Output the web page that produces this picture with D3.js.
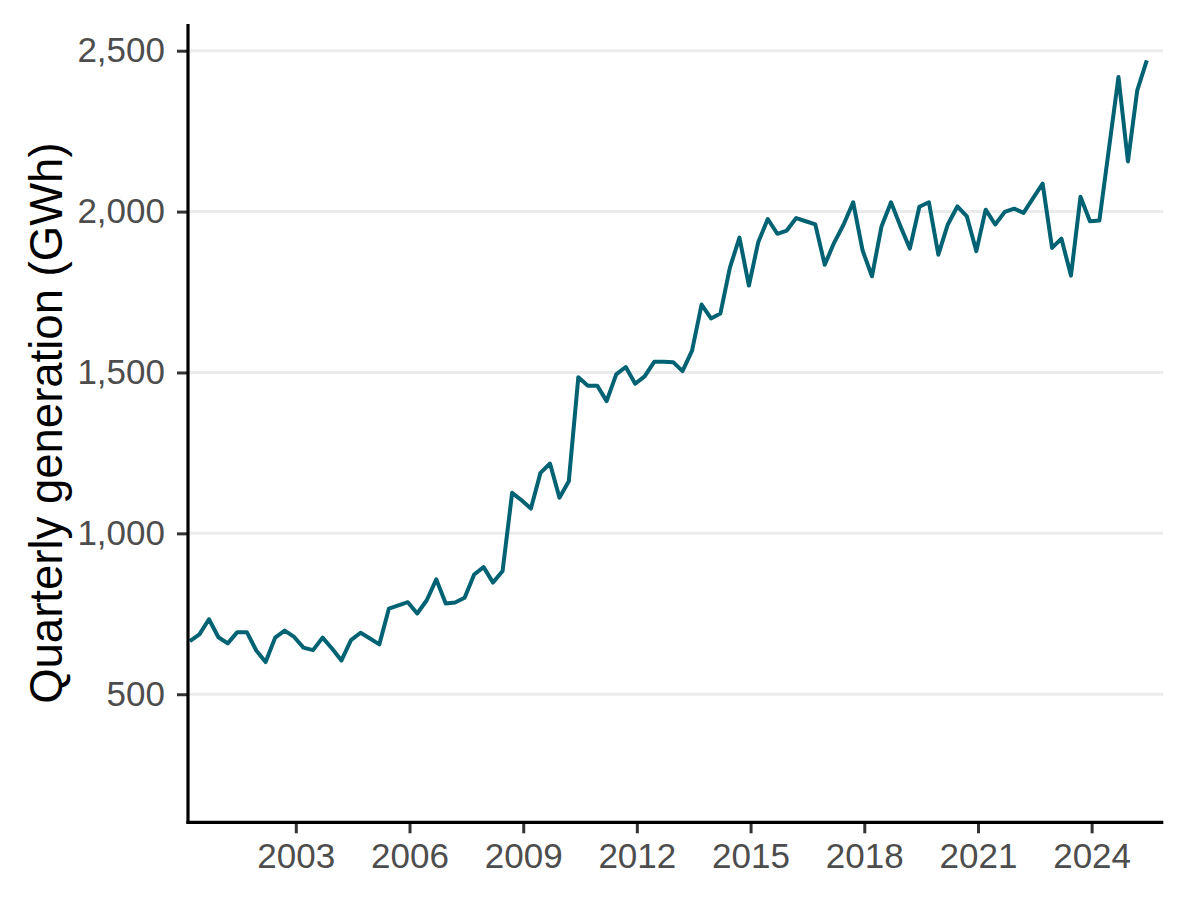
<!DOCTYPE html>
<html>
<head>
<meta charset="utf-8">
<script src="https://cdn.jsdelivr.net/npm/d3@7"></script>
<style>
  html, body { margin: 0; padding: 0; background: #ffffff; }
  svg { display: block; }
  text { font-family: "Liberation Sans", Arial, sans-serif; }
</style>
</head>
<body>
<svg id="chart" width="1200" height="900"></svg>
<script>
// ---- data ----
const startYear = 2000;
// Quarterly generation (GWh), 2000 Q1 .. 2025 Q2
const generation = [
  665, 686, 733, 677, 658, 693, 693, 636, 600, 676,
  698, 678, 645, 637, 676, 642, 605, 668, 691, 673,
  655, 766, 776, 786, 751, 792, 857, 782, 785, 800,
  872, 895, 847, 883, 1126, 1103, 1077, 1188, 1217, 1111,
  1162, 1485, 1459, 1459, 1411, 1494, 1517, 1465, 1488, 1533,
  1533, 1532, 1504, 1568, 1711, 1668, 1683, 1826, 1919, 1770,
  1905, 1977, 1931, 1941, 1980, 1970, 1960, 1835, 1903, 1960,
  2029, 1879, 1799, 1954, 2029, 1954, 1885, 2015, 2029, 1866,
  1960, 2016, 1985, 1877, 2006, 1960, 1999, 2009, 1996, 2042,
  2087, 1887, 1916, 1801, 2046, 1970, 1972, 2195, 2418, 2156,
  2377, 2470
];
const yTicks = [500, 1000, 1500, 2000, 2500];
const xTickYears = [2003, 2006, 2009, 2012, 2015, 2018, 2021, 2024];
const yTitle = "Quarterly generation (GWh)";

const series = generation.map((v, i) => {
  const year = startYear + Math.floor(i / 4);
  const q = i % 4;
  return { date: new Date(year, 3 * q + 2, 16), value: v };
});

// ---- layout ----
const svg = d3.select("#chart");
const plotLeft = 188, plotRight = 1163.3, plotTop = 24, plotBottom = 822.3;

const x = d3.scaleTime()
  .domain([new Date(2000, 1, 27), new Date(2025, 10, 22)])
  .range([plotLeft, plotRight]);
const y = d3.scaleLinear()
  .domain([102, 2583])
  .range([plotBottom, plotTop]);

// gridlines
svg.append("g")
  .selectAll("line")
  .data(yTicks)
  .join("line")
  .attr("x1", plotLeft).attr("x2", plotRight)
  .attr("y1", d => y(d)).attr("y2", d => y(d))
  .attr("stroke", "#EBEBEB")
  .attr("stroke-width", 3);

// line
const line = d3.line()
  .x(d => x(d.date))
  .y(d => y(d.value));

svg.append("path")
  .datum(series)
  .attr("fill", "none")
  .attr("stroke", "#006272")
  .attr("stroke-width", 4)
  .attr("stroke-linejoin", "round")
  .attr("stroke-linecap", "butt")
  .attr("d", line);

// y axis
const yAxis = d3.axisLeft(y)
  .tickValues(yTicks)
  .tickSize(11)
  .tickPadding(12)
  .tickFormat(d3.format(","));
const gy = svg.append("g")
  .attr("transform", `translate(${plotLeft},0)`)
  .call(yAxis);
gy.select(".domain").remove();
gy.selectAll(".tick line").attr("stroke", "#333333").attr("stroke-width", 3);
gy.selectAll(".tick text")
  .attr("fill", "#4D4D4D")
  .attr("font-size", 35)
  .attr("font-family", "'Liberation Sans', Arial, sans-serif");

// x axis
const xAxis = d3.axisBottom(x)
  .tickValues(xTickYears.map(yr => new Date(yr, 0, 1)))
  .tickSize(11)
  .tickPadding(10)
  .tickFormat(d3.timeFormat("%Y"));
const gx = svg.append("g")
  .attr("transform", `translate(0,${plotBottom})`)
  .call(xAxis);
gx.select(".domain").remove();
gx.selectAll(".tick line").attr("stroke", "#333333").attr("stroke-width", 3);
gx.selectAll(".tick text")
  .attr("fill", "#4D4D4D")
  .attr("font-size", 35)
  .attr("font-family", "'Liberation Sans', Arial, sans-serif");

// axis lines
svg.append("line")
  .attr("x1", plotLeft).attr("x2", plotLeft)
  .attr("y1", plotTop).attr("y2", plotBottom + 1.6)
  .attr("stroke", "#000").attr("stroke-width", 3.2);
svg.append("line")
  .attr("x1", plotLeft - 1.6).attr("x2", plotRight)
  .attr("y1", plotBottom).attr("y2", plotBottom)
  .attr("stroke", "#000").attr("stroke-width", 3.2);

// y title
svg.append("text")
  .attr("transform", `translate(62,${(plotTop + plotBottom) / 2}) rotate(-90)`)
  .attr("text-anchor", "middle")
  .attr("font-size", 45.5)
  .attr("fill", "#000")
  .text(yTitle);
</script>
</body>
</html>
